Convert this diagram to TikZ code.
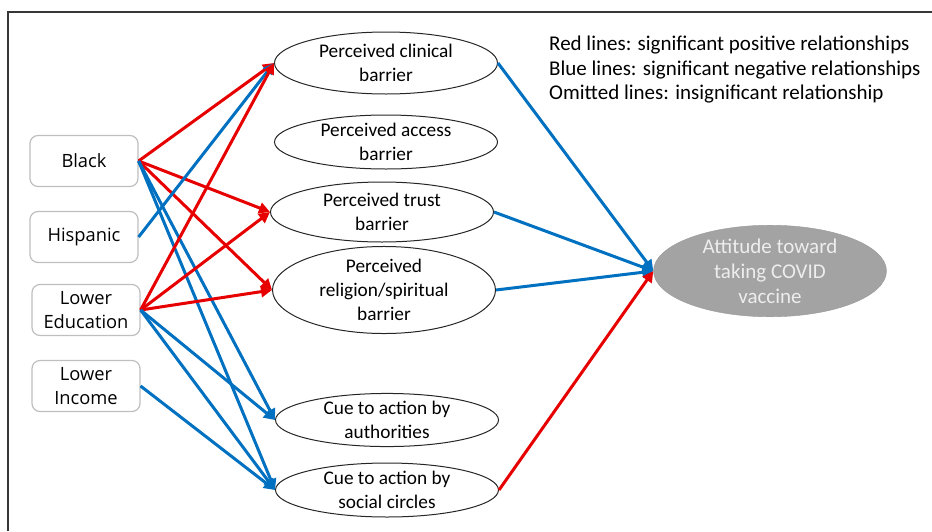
\documentclass[tikz,border=0pt]{standalone}
\usepackage{fontspec}
\setmainfont{Carlito}
\newfontfamily\boxfont{Open Sans}
\usetikzlibrary{arrows.meta,shapes.geometric}
\definecolor{posred}{RGB}{230,0,0}
\definecolor{negblue}{RGB}{0,112,192}
\definecolor{framegray}{RGB}{55,55,55}
\definecolor{attgray}{RGB}{163,163,163}
\tikzset{
  grp/.style={draw=black!25, line width=1.2pt, rounded corners=8pt,
    minimum width=108pt, minimum height=51pt, align=center,
    font=\boxfont\fontsize{18.3}{24}\selectfont},
  barrier/.style={ellipse, draw=black!85, line width=1pt, inner sep=0pt,
    minimum width=223pt, align=center, font=\fontsize{19.3}{24}\selectfont},
  posline/.style={posred, line width=3pt, -{Triangle[length=11pt,width=11pt]}},
  negline/.style={negblue, line width=3pt, -{Triangle[length=11pt,width=11pt]}}
}
\begin{document}
\begin{tikzpicture}[x=1pt, y=-1pt]
		\useasboundingbox (0,0) rectangle (932,531);
		\draw[framegray, line width=2pt] (8,531) -- (8,12) -- (932,12);
		\node[grp] (black) at (84,161) {Black};
		\node[grp] (hisp) at (84,237) {Hispanic};
		\node[grp] (edu) at (86,310) {Lower\\Education};
		\node[grp] (inc) at (86,386) {Lower\\Income};
		\node[barrier, minimum height=62pt] (clin) at (386,63) {Perceived clinical\\barrier};
		\node[barrier, minimum height=54pt] (acc) at (386,142) {Perceived access\\barrier};
		\node[barrier, minimum height=60pt] (trust) at (382,212) {Perceived trust\\barrier};
		\node[barrier, minimum height=65pt] (rel) at (384,290) {Perceived\\religion/spiritual\\barrier};
		\node[barrier, minimum height=53pt] (auth) at (387,420) {Cue to action by\\authorities};
		\node[barrier, minimum height=54pt] (soc) at (387,490) {Cue to action by\\social circles};
		\node[ellipse, draw=black!40, fill=attgray, inner sep=0pt, minimum width=233pt,
		  minimum height=83pt, align=center, text=white!93!black,
		  font=\fontsize{21}{25}\selectfont] (att) at (770,271) {Attitude toward\\taking COVID\\vaccine};
		\node[anchor=north west, inner sep=0pt, align=left, font=\fontsize{21}{24.5}\selectfont]
		  (key) at (549,36) {Red lines: significant positive relationships\\
		  Blue lines: significant negative relationships\\
		  Omitted lines: insignificant relationship};
		\draw[posline] (black.east) -- (clin.west);
		\draw[posline] (black.east) -- (trust.west);
		\draw[posline] (black.east) -- (rel.west);
		\draw[negline] (black.east) -- (auth.west);
		\draw[negline] (black.east) -- (soc.west);
		\draw[negline] (hisp.east) -- (clin.west);
		\draw[posline] (edu.east) -- (clin.west);
		\draw[posline] (edu.east) -- (trust.west);
		\draw[posline] (edu.east) -- (rel.west);
		\draw[negline] (edu.east) -- (auth.west);
		\draw[negline] (edu.east) -- (soc.west);
		\draw[negline] (inc.east) -- (soc.west);
		\draw[negline] (clin.east) -- (att.west);
		\draw[negline] (trust.east) -- (att.west);
		\draw[negline] (rel.east) -- (att.west);
		\draw[posline] (soc.east) -- (att.west);
\end{tikzpicture}
\end{document}
